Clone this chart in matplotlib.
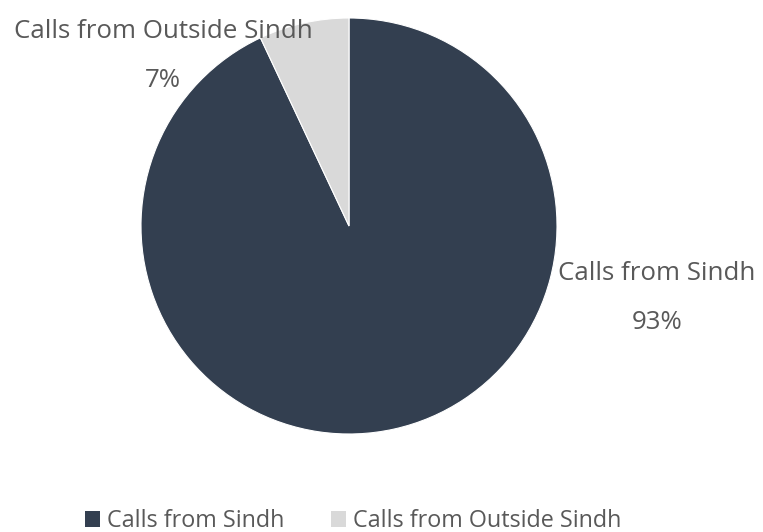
import matplotlib.pyplot as plt
from matplotlib.patches import Patch

plt.rcParams['font.family'] = ['Open Sans', 'DejaVu Sans']

labels = ['Calls from Sindh', 'Calls from Outside Sindh']
shares = [93, 7]
colors = ['#333F50', '#D9D9D9']
text_color = '#595959'

W, H = 763, 532


def main():
    fig = plt.figure(figsize=(W / 100, H / 100), dpi=100)
    # pie centre (349, 226) px, radius 208 px
    cx, cy, r = 349, 226, 208
    ax = fig.add_axes([(cx - r) / W, 1 - (cy + r) / H, 2 * r / W, 2 * r / H])
    wedges, _ = ax.pie(shares, colors=colors, startangle=90, counterclock=False,
                       radius=1, wedgeprops=dict(edgecolor='white', linewidth=0.8))
    ax.set_xlim(-1, 1)
    ax.set_ylim(-1, 1)
    ax.set_aspect('equal')
    ax.axis('off')

    # data labels
    label_pos = [(657, 298), (163, 56)]
    for lab, val, (px, py) in zip(labels, shares, label_pos):
        fig.text(px / W, 1 - py / H, f'{lab}\n{val}%', ha='center', va='center',
                 fontsize=18.6, color=text_color, linespacing=2.3)

    handles = [Patch(facecolor=c, edgecolor='none') for c in colors]
    fig.legend(handles, labels, loc='center', bbox_to_anchor=(353 / W, 1 - 521 / H),
               ncol=2, frameon=False, prop=dict(size=16.8),
               labelcolor=text_color, handlelength=0.65, handleheight=0.65,
               handletextpad=0.3, columnspacing=2.0, borderpad=0)

    fig.savefig('out.png', dpi=100, facecolor='white')


if __name__ == '__main__':
    main()
